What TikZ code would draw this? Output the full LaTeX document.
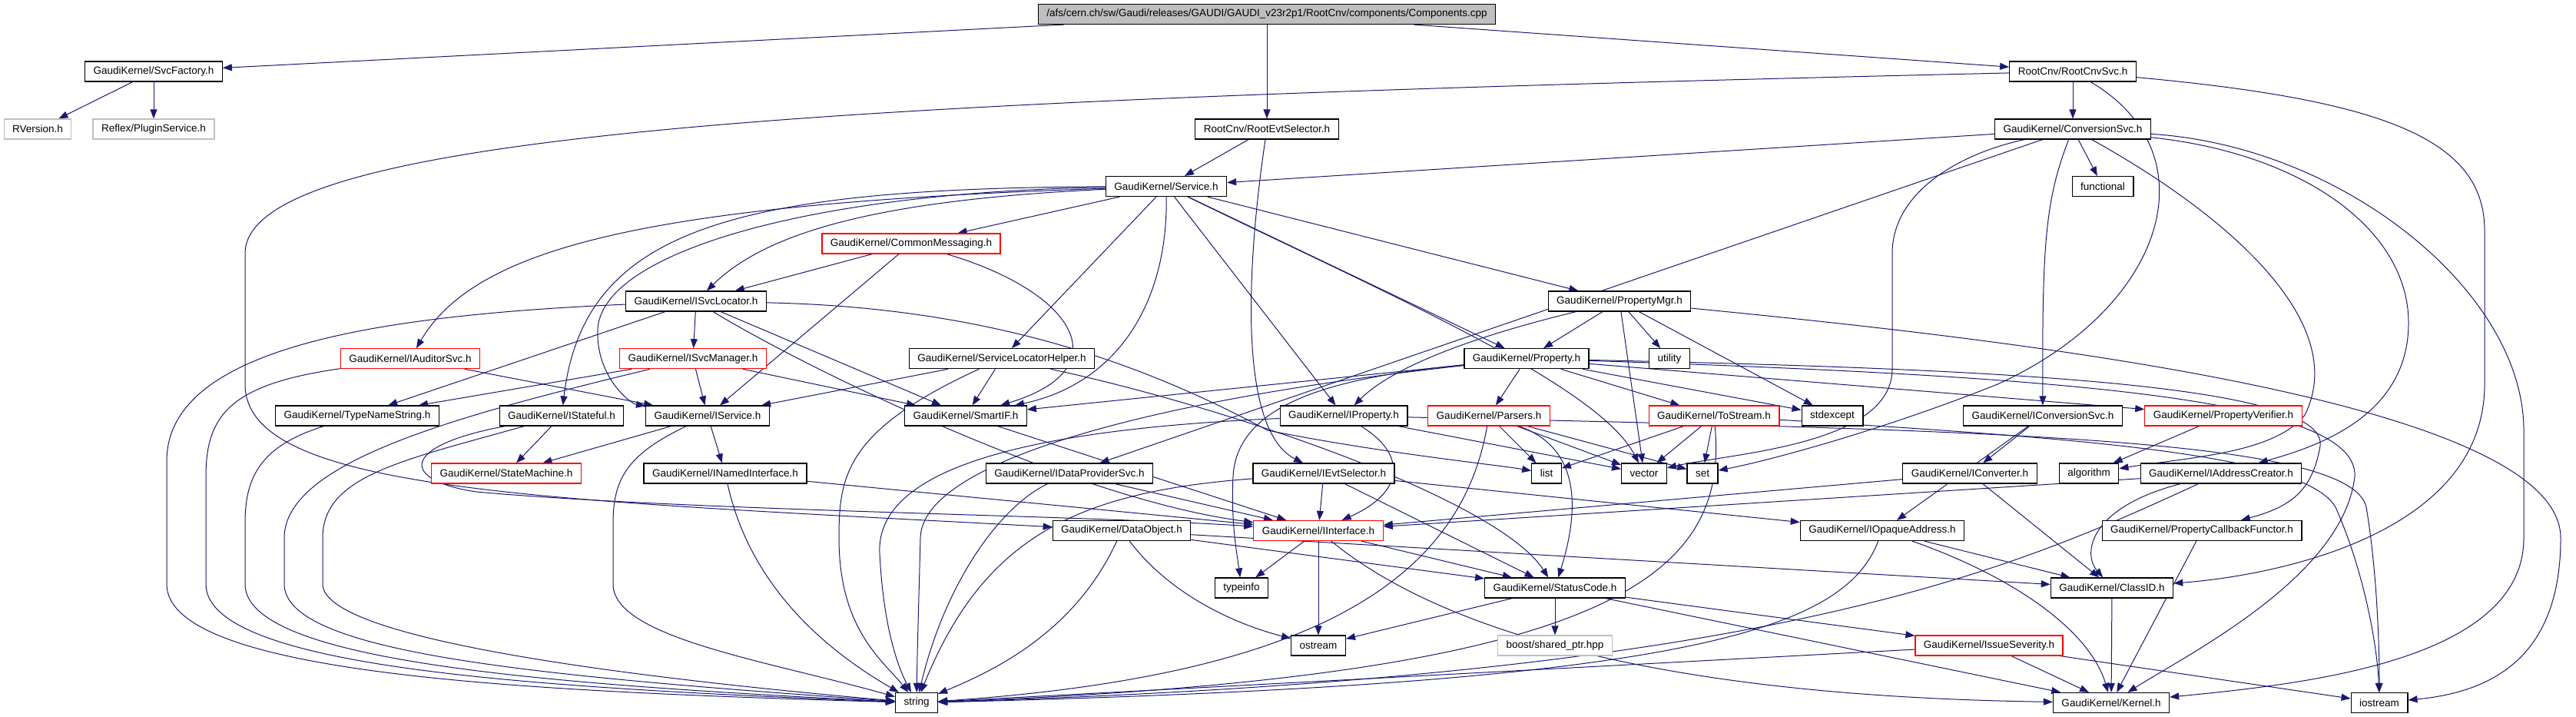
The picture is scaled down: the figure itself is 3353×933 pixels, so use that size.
\documentclass[tikz,border=0pt]{standalone}
\usepackage{fontspec}
\setmainfont{Liberation Sans}
\usetikzlibrary{arrows.meta}
\definecolor{edgeblue}{RGB}{25,25,112}
\definecolor{nodegrey}{RGB}{191,191,191}
\pgfdeclarelayer{background}
\pgfsetlayers{background,main}
\tikzset{
  file/.style={draw=black, line width=1.2pt, fill=white, minimum height=26pt, inner xsep=11pt, inner ysep=0pt, font=\fontsize{13.5}{16}\selectfont},
  redfile/.style={file, draw=red},
  greyfile/.style={file, draw=nodegrey},
  rootfile/.style={file, fill=nodegrey},
  dep/.style={draw=edgeblue, line width=1pt, -{Triangle[length=12pt,width=9pt]}}
}
\begin{document}
\begin{tikzpicture}[x=1pt, y=-1pt]
    \useasboundingbox (0,0) rectangle (3353,933);

    %rank 0
    \node[rootfile] (root) at (1649,18.5) {/afs/cern.ch/sw/Gaudi/releases/GAUDI/GAUDI\_v23r2p1/RootCnv/components/Components.cpp};

    %rank 1
    \node[file] (svcfac) at (200,93) {GaudiKernel/SvcFactory.h};
    \node[file] (cnvsvc) at (2698,93) {RootCnv/RootCnvSvc.h};

    %rank 2
    \node[greyfile] (rversion) at (49,168) {RVersion.h};
    \node[greyfile] (plugin) at (200,168) {Reflex/PluginService.h};
    \node[file] (evtsel) at (1649,168) {RootCnv/RootEvtSelector.h};
    \node[file] (convsvc) at (2698,168) {GaudiKernel/ConversionSvc.h};

    %rank 3
    \node[file] (service) at (1518,242.5) {GaudiKernel/Service.h};
    \node[file] (functional) at (2737,242.5) {functional};

    %rank 4
    \node[redfile] (commsg) at (1186,317) {GaudiKernel/CommonMessaging.h};

    %rank 5
    \node[file] (isvcloc) at (906,392) {GaudiKernel/ISvcLocator.h};
    \node[file] (propmgr) at (2108,392) {GaudiKernel/PropertyMgr.h};

    %rank 6
    \node[redfile] (iauditor) at (534,466.7) {GaudiKernel/IAuditorSvc.h};
    \node[redfile] (isvcmgr) at (902,466.7) {GaudiKernel/ISvcManager.h};
    \node[file] (slh) at (1304,466.7) {GaudiKernel/ServiceLocatorHelper.h};
    \node[file] (property) at (1987,466.7) {GaudiKernel/Property.h};
    \node[file] (utility) at (2173,466.7) {utility};

    %rank 7
    \node[file] (typename) at (465,541) {GaudiKernel/TypeNameString.h};
    \node[file] (istateful) at (731,541) {GaudiKernel/IStateful.h};
    \node[file] (iservice) at (921,541) {GaudiKernel/IService.h};
    \node[file] (smartif) at (1257,541) {GaudiKernel/SmartIF.h};
    \node[file] (iproperty) at (1749,541) {GaudiKernel/IProperty.h};
    \node[redfile] (parsers) at (1938,541) {GaudiKernel/Parsers.h};
    \node[redfile] (tostream) at (2231,541) {GaudiKernel/ToStream.h};
    \node[file] (stdexcept) at (2385,541) {stdexcept};
    \node[file] (iconvsvc) at (2659,541) {GaudiKernel/IConversionSvc.h};
    \node[redfile] (propverif) at (2894,541) {GaudiKernel/PropertyVerifier.h};

    %rank 8
    \node[redfile] (statemach) at (659,616) {GaudiKernel/StateMachine.h};
    \node[file] (inamed) at (944,616) {GaudiKernel/INamedInterface.h};
    \node[file] (idataprov) at (1392,616) {GaudiKernel/IDataProviderSvc.h};
    \node[file] (ievtsel) at (1723,616) {GaudiKernel/IEvtSelector.h};
    \node[file] (list) at (2013,616) {list};
    \node[file] (vector) at (2140,616) {vector};
    \node[file] (set) at (2216,616) {set};
    \node[file] (iconverter) at (2564,616) {GaudiKernel/IConverter.h};
    \node[file] (algorithm) at (2719,616) {algorithm};
    \node[file] (iaddr) at (2891,616) {GaudiKernel/IAddressCreator.h};

    %rank 9
    \node[file] (dataobj) at (1460,690.5) {GaudiKernel/DataObject.h};
    \node[redfile] (iinterface) at (1716,690.5) {GaudiKernel/IInterface.h};
    \node[file] (iopaque) at (2450,690.5) {GaudiKernel/IOpaqueAddress.h};
    \node[file] (propcb) at (2866,690.5) {GaudiKernel/PropertyCallbackFunctor.h};

    %rank 10
    \node[file] (typeinfo) at (1616,765) {typeinfo};
    \node[file] (statuscode) at (2024,765) {GaudiKernel/StatusCode.h};
    \node[file] (classid) at (2749,765) {GaudiKernel/ClassID.h};

    %rank 11
    \node[file] (ostream) at (1716,840) {ostream};
    \node[greyfile] (boost) at (2024,840) {boost/shared\_ptr.hpp};
    \node[redfile] (issue) at (2589,840) {GaudiKernel/IssueSeverity.h};

    %rank 12
    \node[file] (string) at (1193,914.5) {string};
    \node[file] (kernel) at (2748,914.5) {GaudiKernel/Kernel.h};
    \node[file] (iostream) at (3097,914.5) {iostream};

    \begin{pgfonlayer}{background}
    %Components.cpp
    \draw[dep] (root) -- (svcfac);
    \draw[dep] (root) -- (evtsel);
    \draw[dep] (root) -- (cnvsvc);
    \draw[dep] (svcfac) -- (rversion);
    \draw[dep] (svcfac) -- (plugin);

    %RootEvtSelector.h
    \draw[dep] (evtsel) -- (service);
    \draw[dep] (evtsel) .. controls (1622,350) and (1612,560) .. (ievtsel);

    %RootCnvSvc.h
    \draw[dep] (cnvsvc) -- (convsvc);
    \draw[dep] (cnvsvc) .. controls (1100,130) and (319,170) .. (319,330) -- (319,500) .. controls (319,640) and (700,650) .. (dataobj);
    \draw[dep] (cnvsvc) .. controls (2880,200) and (2820,400) .. (2600,500) .. controls (2450,560) and (2300,600) .. (set);
    \draw[dep] (cnvsvc) .. controls (3100,130) and (3234,180) .. (3234,300) -- (3234,500) .. controls (3234,700) and (2950,750) .. (classid);

    %ConversionSvc.h
    \draw[dep] (convsvc) -- (service);
    \draw[dep] (convsvc) -- (functional);
    \draw[dep] (convsvc) -- (idataprov);
    \draw[dep] (convsvc) .. controls (2662,260) and (2658,320) .. (iconvsvc);
    \draw[dep] (convsvc) .. controls (2900,280) and (3060,420) .. (3000,540) .. controls (2960,590) and (2850,595) .. (algorithm);
    \draw[dep] (convsvc) .. controls (3000,200) and (3135,300) .. (3135,420) .. controls (3135,540) and (3020,580) .. (iaddr);
    \draw[dep] (convsvc) .. controls (3050,190) and (3285,380) .. (3285,560) -- (3285,700) .. controls (3285,860) and (3000,890) .. (kernel);
    \draw[dep] (convsvc) .. controls (2550,200) and (2463,250) .. (2463,330) -- (2463,480) .. controls (2463,580) and (2250,590) .. (vector);

    %Service.h
    \draw[dep] (service) -- (commsg);
    \draw[dep] (service) .. controls (1150,260) and (1000,300) .. (isvcloc);
    \draw[dep] (service) .. controls (850,265) and (620,320) .. (iauditor);
    \draw[dep] (service) .. controls (950,245) and (760,300) .. (istateful);
    \draw[dep] (service) .. controls (1050,250) and (780,330) .. (778,430) .. controls (776,490) and (820,525) .. (iservice);
    \draw[dep] (service) -- (slh);
    \draw[dep] (service) .. controls (1520,400) and (1450,500) .. (smartif);
    \draw[dep] (service) -- (iproperty);
    \draw[dep] (service) -- (property);
    \draw[dep] (service) -- (propmgr);
    \draw[dep] (service) .. controls (1800,380) and (2080,500) .. (vector);

    %CommonMessaging.h
    \draw[dep] (commsg) -- (isvcloc);
    \draw[dep] (commsg) -- (iservice);
    \draw[dep] (commsg) .. controls (1400,380) and (1460,480) .. (smartif);

    %ISvcLocator.h
    \draw[dep] (isvcloc) -- (isvcmgr);
    \draw[dep] (isvcloc) -- (typename);
    \draw[dep] (isvcloc) -- (smartif);
    \draw[dep] (isvcloc) .. controls (1050,480) and (1400,650) .. (iinterface);
    \draw[dep] (isvcloc) .. controls (1300,400) and (1500,480) .. (1650,560) .. controls (1800,590) and (1950,605) .. (list);
    \draw[dep] (isvcloc) .. controls (500,410) and (217,450) .. (217,600) -- (217,760) .. controls (217,880) and (700,900) .. (string);

    %ISvcManager.h and IAuditorSvc.h
    \draw[dep] (isvcmgr) -- (typename);
    \draw[dep] (isvcmgr) -- (iservice);
    \draw[dep] (isvcmgr) -- (smartif);
    \draw[dep] (isvcmgr) .. controls (600,540) and (370,600) .. (370,700) -- (370,760) .. controls (370,850) and (700,880) .. (string);
    \draw[dep] (iauditor) -- (iservice);
    \draw[dep] (iauditor) .. controls (300,500) and (268,540) .. (268,620) -- (268,760) .. controls (268,870) and (700,895) .. (string);
    \draw[dep] (typename) .. controls (340,580) and (319,620) .. (319,680) -- (319,760) .. controls (319,860) and (700,890) .. (string);

    %IStateful.h and IService.h
    \draw[dep] (istateful) -- (statemach);
    \draw[dep] (istateful) .. controls (520,580) and (520,625) .. (620,640) .. controls (900,665) and (1400,670) .. (iinterface);
    \draw[dep] (istateful) .. controls (520,600) and (420,620) .. (420,700) -- (420,760) .. controls (420,830) and (800,880) .. (string);
    \draw[dep] (iservice) -- (inamed);
    \draw[dep] (iservice) -- (statemach);
    \draw[dep] (iservice) .. controls (820,590) and (798,620) .. (798,680) -- (798,760) .. controls (798,830) and (1000,860) .. (string);

    %ServiceLocatorHelper.h
    \draw[dep] (slh) -- (iservice);
    \draw[dep] (slh) -- (smartif);
    \draw[dep] (slh) .. controls (1100,560) and (1092,620) .. (1092,700) .. controls (1092,820) and (1150,860) .. (string);
    \draw[dep] (slh) .. controls (1600,530) and (1950,650) .. (statuscode);

    %PropertyMgr.h
    \draw[dep] (propmgr) -- (property);
    \draw[dep] (propmgr) -- (utility);
    \draw[dep] (propmgr) -- (vector);
    \draw[dep] (propmgr) -- (stdexcept);
    \draw[dep] (propmgr) .. controls (1950,430) and (1820,470) .. (iproperty);
    \draw[dep] (propmgr) .. controls (2600,440) and (3333,520) .. (3333,700) .. controls (3333,850) and (3250,900) .. (iostream);

    %Property.h
    \draw[dep] (property) -- (parsers);
    \draw[dep] (property) -- (tostream);
    \draw[dep] (property) -- (stdexcept);
    \draw[dep] (property) -- (smartif);
    \draw[dep] (property) -- (propverif);
    \draw[dep] (property) .. controls (1500,520) and (1200,600) .. (1198,700) .. controls (1196,780) and (1194,840) .. (string);
    \draw[dep] (property) .. controls (1750,490) and (1610,520) .. (1605,620) .. controls (1602,680) and (1610,720) .. (typeinfo);
    \draw[dep] (property) .. controls (2600,480) and (3030,500) .. (3020,580) .. controls (3010,640) and (2980,660) .. (propcb);
    \draw[dep] (property) .. controls (2700,490) and (3070,520) .. (3065,620) .. controls (3050,750) and (2850,850) .. (kernel);

    %IProperty.h
    \draw[dep] (iproperty) .. controls (1830,590) and (1830,640) .. (iinterface);
    \draw[dep] (iproperty) .. controls (1300,560) and (1140,620) .. (1145,720) .. controls (1150,820) and (1170,870) .. (string);
    \draw[dep] (iproperty) -- (vector);
    \draw[dep] (iproperty) .. controls (2600,560) and (3060,570) .. (3080,660) .. controls (3095,750) and (3097,850) .. (iostream);

    %Parsers.h and ToStream.h
    \draw[dep] (parsers) .. controls (1900,760) and (1700,880) .. (string);
    \draw[dep] (parsers) -- (list);
    \draw[dep] (parsers) -- (vector);
    \draw[dep] (parsers) -- (set);
    \draw[dep] (parsers) .. controls (2050,580) and (2060,650) .. (statuscode);
    \draw[dep] (tostream) -- (list);
    \draw[dep] (tostream) -- (vector);
    \draw[dep] (tostream) -- (set);
    \draw[dep] (tostream) .. controls (2250,750) and (2100,880) .. (string);
    \draw[dep] (tostream) .. controls (2700,570) and (3000,590) .. (3040,660) .. controls (3080,750) and (3095,850) .. (iostream);

    %rank 7 and 8 interfaces
    \draw[dep] (smartif) -- (iinterface);
    \draw[dep] (inamed) -- (iinterface);
    \draw[dep] (inamed) .. controls (980,780) and (1100,860) .. (string);
    \draw[dep] (idataprov) -- (iinterface);
    \draw[dep] (idataprov) .. controls (1300,660) and (1230,760) .. (string);
    \draw[dep] (ievtsel) -- (iinterface);
    \draw[dep] (ievtsel) -- (statuscode);
    \draw[dep] (ievtsel) -- (iopaque);
    \draw[dep] (ievtsel) .. controls (1400,640) and (1280,700) .. (string);
    \draw[dep] (iconvsvc) -- (iconverter);
    \draw[dep] (iconvsvc) -- (iopaque);
    \draw[dep] (iconverter) -- (iinterface);
    \draw[dep] (iconverter) -- (classid);
    \draw[dep] (propverif) -- (algorithm);
    \draw[dep] (iaddr) -- (iinterface);
    \draw[dep] (iaddr) .. controls (2720,660) and (2710,720) .. (classid);
    \draw[dep] (iaddr) .. controls (2600,750) and (2300,880) .. (string);

    %DataObject.h and IInterface.h
    \draw[dep] (dataobj) .. controls (1400,820) and (1300,870) .. (string);
    \draw[dep] (dataobj) .. controls (1520,770) and (1600,810) .. (ostream);
    \draw[dep] (dataobj) -- (statuscode);
    \draw[dep] (dataobj) -- (classid);
    \draw[dep] (iinterface) -- (typeinfo);
    \draw[dep] (iinterface) -- (ostream);
    \draw[dep] (iinterface) -- (statuscode);
    \draw[dep] (iinterface) .. controls (1850,800) and (2100,905) .. (kernel);

    %bottom ranks
    \draw[dep] (iopaque) -- (classid);
    \draw[dep] (iopaque) .. controls (2620,750) and (2720,820) .. (kernel);
    \draw[dep] (iopaque) .. controls (2400,820) and (2200,890) .. (string);
    \draw[dep] (propcb) -- (kernel);
    \draw[dep] (classid) -- (kernel);
    \draw[dep] (statuscode) -- (ostream);
    \draw[dep] (statuscode) -- (boost);
    \draw[dep] (statuscode) -- (issue);
    \draw[dep] (statuscode) -- (kernel);
    \draw[dep] (issue) -- (kernel);
    \draw[dep] (issue) -- (iostream);
    \draw[dep] (issue) -- (string);
    \end{pgfonlayer}
\end{tikzpicture}
\end{document}
